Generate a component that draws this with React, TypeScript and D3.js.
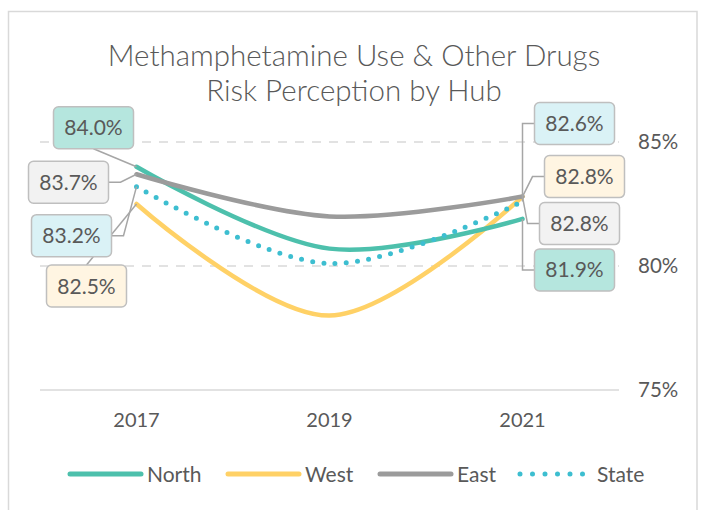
import React from "react";
import * as d3 from "d3";

const years = ["2017", "2019", "2021"];
const seriesNames = ["North", "West", "East", "State"];
const northValues = [84.0, 80.7, 81.9];
const westValues = [82.5, 78.0, 82.8];
const eastValues = [83.7, 82.0, 82.8];
const stateValues = [83.2, 80.1, 82.6];
const yTicks = [75, 80, 85];

const W = 702;
const H = 510;
const FONT = "Lato, 'Open Sans', sans-serif";
const TXT = "#595959";

const colors: Record<string, string> = {
  North: "#4DC0AC",
  West: "#FFD166",
  East: "#9B9B9B",
  State: "#3DBED0",
};
const fills: Record<string, string> = {
  North: "#B5E6DE",
  West: "#FFF5E2",
  East: "#F2F2F2",
  State: "#DAF2F6",
};

// label box offsets (relative to data point) for first / last points
const leftOffsets: Record<string, [number, number, string]> = {
  North: [-43, -39, "bottom"],
  East: [-68, 8, "side"],
  State: [-65, 49, "side"],
  West: [-50, 82, "top"],
};
const rightOffsets: Record<string, [number, number, string]> = {
  State: [52, -78, "side"],
  West: [62, -20, "side"],
  East: [57, 27, "side"],
  North: [52, 51, "side"],
};

export default function App() {
  const x = d3.scaleBand<string>().domain(years).range([40, 619]);
  const cx = (d: string) => (x(d) as number) + x.bandwidth() / 2;
  const y = d3.scaleLinear().domain([75, 85]).range([390, 142]);

  const dataMap: Record<string, number[]> = {
    North: northValues,
    West: westValues,
    East: eastValues,
    State: stateValues,
  };

  const line = d3
    .line<number>()
    .x((_, i) => cx(years[i]))
    .y((v) => y(v))
    .curve(d3.curveCatmullRom.alpha(0.5));

  const drawOrder = ["West", "North", "East", "State"];
  const boxW = 80;
  const boxH = 42;

  const labels: React.ReactNode[] = [];
  const leaders: React.ReactNode[] = [];
  const addLabel = (name: string, idx: number, side: "left" | "right") => {
    const v = dataMap[name][idx];
    const px = cx(years[idx]);
    const py = y(v);
    const [dx, dy, kind] = side === "left" ? leftOffsets[name] : rightOffsets[name];
    const bx = px + dx;
    const by = py + dy;
    let path = "";
    if (kind === "bottom") {
      path = `M${bx},${by + boxH / 2}L${px},${py}`;
    } else if (kind === "top") {
      path = `M${bx},${by - boxH / 2}L${px},${py}`;
    } else if (side === "left") {
      const ex = bx + boxW / 2;
      path = `M${ex},${by}L${ex + 12},${by}L${px},${py}`;
    } else {
      const ex = bx - boxW / 2;
      path = `M${ex},${by}L${ex - 12},${by}L${px},${py}`;
    }
    leaders.push(
      <path key={`l-${name}-${idx}`} d={path} fill="none" stroke="#A6A6A6" strokeWidth={1.5} />
    );
    labels.push(
      <g key={`b-${name}-${idx}`}>
        <rect
          x={bx - boxW / 2}
          y={by - boxH / 2}
          width={boxW}
          height={boxH}
          rx={5}
          fill={fills[name]}
          stroke="#BFBFBF"
          strokeWidth={1.5}
        />
        <text
          x={bx}
          y={by + 7.5}
          textAnchor="middle"
          fontFamily={FONT}
          fontSize={21}
          fill={TXT}
        >
          {v.toFixed(1) + "%"}
        </text>
      </g>
    );
  };
  // left labels: West first so State box covers its leader
  ["West", "North", "East", "State"].forEach((n) => addLabel(n, 0, "left"));
  ["State", "West", "East", "North"].forEach((n) => addLabel(n, 2, "right"));

  const legendX = [70, 228, 380, 520];

  return (
    <svg
      width={W}
      height={H}
      style={{ position: "absolute", left: 0, top: 0 }}
      viewBox={`0 0 ${W} ${H}`}
    >
      <rect x={0} y={0} width={W} height={H} fill="#fff" />
      <rect x={8.5} y={11.5} width={688.5} height={520} fill="#fff" stroke="#D9D9D9" strokeWidth={1.5} />
      <text x={354} y={66} textAnchor="middle" fontFamily={FONT} fontSize={29.5} fontWeight={300} fill={TXT}>
        Methamphetamine Use &amp; Other Drugs
      </text>
      <text x={354} y={101} textAnchor="middle" fontFamily={FONT} fontSize={29.5} fontWeight={300} fill={TXT}>
        Risk Perception by Hub
      </text>

      {yTicks.map((t) => (
        <g key={t}>
          <line
            x1={40}
            x2={619}
            y1={y(t)}
            y2={y(t)}
            stroke="#D9D9D9"
            strokeWidth={1.5}
            strokeDasharray={t === 75 ? undefined : "9 8"}
          />
          <text x={638} y={y(t) + 7} fontFamily={FONT} fontSize={20.5} fill={TXT}>
            {t + "%"}
          </text>
        </g>
      ))}

      {years.map((yr) => (
        <text key={yr} x={cx(yr)} y={427} textAnchor="middle" fontFamily={FONT} fontSize={20} fill={TXT}>
          {yr}
        </text>
      ))}

      {drawOrder.map((name) => (
        <path
          key={name}
          d={line(dataMap[name]) as string}
          fill="none"
          stroke={colors[name]}
          strokeWidth={name === "State" ? 5 : 4.5}
          strokeLinecap="round"
          strokeDasharray={name === "State" ? "0 11.3" : undefined}
        />
      ))}

      {leaders}
      {labels}

      {seriesNames.map((name, i) => (
        <g key={name}>
          <line
            x1={legendX[i]}
            x2={legendX[i] + 71}
            y1={474}
            y2={474}
            stroke={colors[name]}
            strokeWidth={5}
            strokeLinecap="round"
            strokeDasharray={name === "State" ? "0 12.5" : undefined}
          />
          <text x={legendX[i] + 77} y={481.5} fontFamily={FONT} fontSize={21} fill={TXT}>
            {name}
          </text>
        </g>
      ))}
    </svg>
  );
}
